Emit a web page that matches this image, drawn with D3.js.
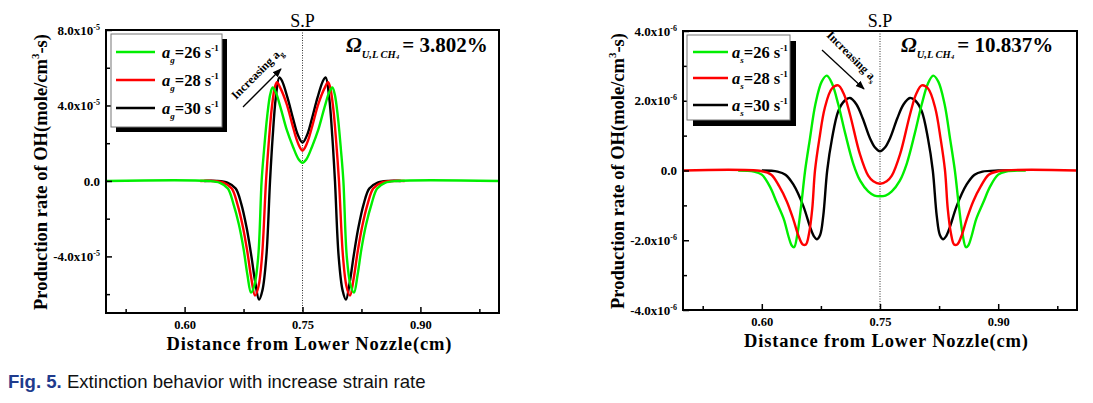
<!DOCTYPE html>
<html><head><meta charset="utf-8">
<script src="https://cdn.jsdelivr.net/npm/d3@7"></script>
<style>body{margin:0;background:#fff}svg{display:block}</style>
</head><body>
<svg id="c" width="1093" height="403"></svg>
<script>
// ---------- data ----------
const xMajor = [0.60, 0.75, 0.90];
const xMinor = [0.525, 0.675, 0.825, 0.975];
const leftYMajor = [-4, 0, 4, 8];
const leftYMinor = [-6, -2, 2, 6];
const rightYMajor = [-4, -2, 0, 2, 4];
const rightYMinor = [-3, -1, 1, 3];
const strainRates = [26, 28, 30];
const leftOmega = "3.802%";
const rightOmega = "10.837%";

// left panel (units 1e-5)
const leftGreen = [[0.500,0],[0.630,0],[0.645,-0.1],[0.655,-0.4],[0.662,-1.2],[0.669,-2.3],[0.675,-3.6],[0.680,-5.0],[0.6845,-5.92],[0.689,-5.5],[0.6937,-4.0],[0.698,0],[0.701,1.6],[0.705,3.4],[0.709,4.6],[0.712,4.96],[0.716,4.7],[0.722,3.9],[0.730,2.7],[0.738,1.8],[0.745,1.15],[0.750,0.96],
 [0.755,1.15],[0.762,1.8],[0.770,2.7],[0.778,3.9],[0.784,4.7],[0.788,4.96],[0.791,4.6],[0.795,3.4],[0.799,1.6],[0.802,0],[0.8063,-4.0],[0.811,-5.5],[0.8155,-5.92],[0.820,-5.0],[0.825,-3.6],[0.831,-2.3],[0.838,-1.2],[0.845,-0.4],[0.855,-0.1],[0.870,0],[1.000,0]];
const leftRed = [[0.620,0],[0.635,0],[0.650,-0.1],[0.660,-0.4],[0.667,-1.2],[0.674,-2.4],[0.680,-3.8],[0.685,-5.2],[0.6896,-6.08],[0.694,-5.6],[0.6985,-4.0],[0.7036,0],[0.707,2.0],[0.711,3.9],[0.715,5.0],[0.7176,5.23],[0.721,5.0],[0.7297,4.1],[0.737,3.0],[0.7425,2.2],[0.747,1.75],[0.750,1.6],
 [0.753,1.75],[0.7575,2.2],[0.763,3.0],[0.7703,4.1],[0.779,5.0],[0.7824,5.23],[0.785,5.0],[0.789,3.9],[0.793,2.0],[0.7964,0],[0.8015,-4.0],[0.806,-5.6],[0.8104,-6.08],[0.815,-5.2],[0.820,-3.8],[0.826,-2.4],[0.833,-1.2],[0.840,-0.4],[0.850,-0.1],[0.865,0],[0.880,0]];
const leftBlack = [[0.625,0],[0.640,0],[0.655,-0.1],[0.665,-0.4],[0.672,-1.2],[0.679,-2.5],[0.685,-4.0],[0.690,-5.4],[0.6947,-6.29],[0.699,-5.8],[0.704,-4.0],[0.7087,0],[0.712,2.3],[0.716,4.4],[0.7205,5.49],[0.724,5.3],[0.731,4.4],[0.738,3.3],[0.744,2.45],[0.750,2.03],
 [0.756,2.45],[0.762,3.3],[0.769,4.4],[0.776,5.3],[0.7795,5.49],[0.784,4.4],[0.788,2.3],[0.7913,0],[0.796,-4.0],[0.801,-5.8],[0.8053,-6.29],[0.810,-5.4],[0.815,-4.0],[0.821,-2.5],[0.828,-1.2],[0.835,-0.4],[0.845,-0.1],[0.860,0],[0.875,0]];

// right panel (units 1e-6)
const rightGreen = [[0.570,0],[0.590,-0.03],[0.600,-0.12],[0.610,-0.45],[0.619,-0.92],[0.628,-1.4],[0.634,-1.9],[0.638,-2.15],[0.641,-2.2],[0.645,-1.85],[0.650,-1.0],[0.655,0.0],[0.661,0.9],[0.668,1.9],[0.676,2.55],[0.6825,2.72],[0.689,2.5],[0.697,1.9],[0.706,1.05],[0.716,0.2],[0.725,-0.3],[0.735,-0.6],[0.743,-0.72],[0.750,-0.74],
 [0.757,-0.72],[0.765,-0.6],[0.775,-0.3],[0.784,0.2],[0.794,1.05],[0.803,1.9],[0.811,2.5],[0.8175,2.72],[0.824,2.55],[0.832,1.9],[0.839,0.9],[0.845,0],[0.850,-1.0],[0.855,-1.85],[0.859,-2.2],[0.862,-2.15],[0.866,-1.9],[0.872,-1.4],[0.881,-0.92],[0.890,-0.45],[0.900,-0.12],[0.910,-0.03],[0.935,0]];
const rightRed = [[0.500,0],[0.600,-0.02],[0.612,-0.12],[0.622,-0.45],[0.6316,-0.88],[0.640,-1.4],[0.647,-1.9],[0.652,-2.12],[0.656,-2.12],[0.660,-1.8],[0.664,-1.1],[0.6675,0],[0.673,0.9],[0.680,1.8],[0.689,2.35],[0.697,2.44],[0.704,2.2],[0.712,1.6],[0.7246,0.46],[0.735,-0.15],[0.7415,-0.31],[0.750,-0.38],
 [0.7585,-0.31],[0.765,-0.15],[0.7754,0.46],[0.788,1.6],[0.796,2.2],[0.803,2.44],[0.811,2.35],[0.820,1.8],[0.827,0.9],[0.8325,0],[0.836,-1.1],[0.840,-1.8],[0.844,-2.12],[0.848,-2.12],[0.853,-1.9],[0.860,-1.4],[0.8684,-0.88],[0.878,-0.45],[0.888,-0.12],[0.900,-0.02],[1.000,0]];
const rightBlack = [[0.600,0],[0.620,-0.03],[0.630,-0.12],[0.640,-0.4],[0.6527,-1.02],[0.661,-1.6],[0.666,-1.88],[0.670,-1.97],[0.674,-1.85],[0.678,-1.3],[0.683,0.0],[0.689,0.9],[0.697,1.7],[0.705,2.0],[0.712,2.08],[0.720,1.9],[0.728,1.5],[0.737,0.94],[0.744,0.65],[0.750,0.55],
 [0.756,0.65],[0.763,0.94],[0.772,1.5],[0.780,1.9],[0.788,2.08],[0.795,2.0],[0.803,1.7],[0.811,0.9],[0.817,0],[0.822,-1.3],[0.826,-1.85],[0.830,-1.97],[0.834,-1.88],[0.839,-1.6],[0.8473,-1.02],[0.860,-0.4],[0.870,-0.12],[0.880,-0.03],[0.900,0],[0.920,0]];

// ---------- drawing ----------
const svg = d3.select("#c");
const SERIF = "'Liberation Serif','Times New Roman',serif";
svg.append("defs").append("marker").attr("id","arr").attr("viewBox","0 0 10 10")
  .attr("refX",9).attr("refY",5).attr("markerWidth",7).attr("markerHeight",7).attr("orient","auto")
  .append("path").attr("d","M0,1 L10,5 L0,9 Z").attr("fill","#000");

function drawPanel(p){
  const x = d3.scaleLinear().domain([0.5,1.0]).range([p.x0,p.x1]);
  const y = d3.scaleLinear().domain(p.yDomain).range([p.y1,p.y0]);
  const g = svg.append("g");

  g.append("line").attr("x1",x(0.75)).attr("x2",x(0.75)).attr("y1",p.y0).attr("y2",p.y1)
   .attr("stroke","#333").attr("stroke-width",1).attr("stroke-dasharray","1,1.5");

  const line = d3.line().x(d=>x(d[0])).y(d=>y(d[1])).curve(d3.curveCatmullRom.alpha(0.5));
  p.series.forEach(s=>{
    g.append("path").attr("d",line(s.data)).attr("fill","none").attr("stroke",s.color)
     .attr("stroke-width",2.4).attr("stroke-linejoin","round");
  });

  g.append("rect").attr("x",p.x0).attr("y",p.y0).attr("width",p.x1-p.x0).attr("height",p.y1-p.y0)
   .attr("fill","none").attr("stroke","#000").attr("stroke-width",2);

  // y axis
  const ya = g.append("g").attr("transform",`translate(${p.x0},0)`)
    .call(d3.axisLeft(y).tickValues(p.yMajor).tickSize(-6).tickPadding(6));
  ya.select(".domain").remove();
  ya.selectAll("line").attr("stroke-width",1.5);
  ya.selectAll(".tick text").each(function(d){
    const t = d3.select(this).text(null).attr("font-family",SERIF).attr("font-weight","bold").attr("font-size",13).attr("fill","#000");
    if (d===0) { t.text("0.0"); }
    else {
      t.append("tspan").text(d.toFixed(1)+"x10");
      t.append("tspan").attr("dy",-5).attr("font-size",8).text(p.expo);
    }
  });
  const yam = g.append("g").attr("transform",`translate(${p.x0},0)`)
    .call(d3.axisLeft(y).tickValues(p.yMinor).tickSize(-4).tickFormat(""));
  yam.select(".domain").remove();
  yam.selectAll("line").attr("stroke-width",1.5);

  // x axis
  const xa = g.append("g").attr("transform",`translate(0,${p.y1})`)
    .call(d3.axisBottom(x).tickValues(xMajor).tickSize(-6).tickPadding(p.xPad).tickFormat(d3.format(".2f")));
  xa.select(".domain").remove();
  xa.selectAll("line").attr("stroke-width",1.5);
  xa.selectAll("text").attr("font-family",SERIF).attr("font-weight","bold").attr("font-size",12.5).attr("fill","#000");
  const xam = g.append("g").attr("transform",`translate(0,${p.y1})`)
    .call(d3.axisBottom(x).tickValues(xMinor).tickSize(-4).tickFormat(""));
  xam.select(".domain").remove();
  xam.selectAll("line").attr("stroke-width",1.5);

  // titles
  const yt = g.append("text").attr("transform",`translate(${p.yTitleX},${p.yTitleY}) rotate(-90)`)
    .attr("text-anchor","middle").attr("font-family",SERIF).attr("font-weight","bold").attr("font-size",18.5);
  yt.append("tspan").text("Production rate of OH(mole/cm");
  yt.append("tspan").attr("dy",-8).attr("font-size",11).text("3");
  yt.append("tspan").attr("dy",8).text("-s)");
  g.append("text").attr("x",p.xTitleX).attr("y",p.xTitleY).attr("text-anchor","middle")
   .attr("font-family",SERIF).attr("font-weight","bold").attr("font-size",18.5)
   .attr("textLength",p.xTitleLen).attr("lengthAdjust","spacing")
   .text("Distance from Lower Nozzle(cm)");

  // S.P
  g.append("text").attr("x",x(0.75)).attr("y",27).attr("text-anchor","middle")
   .attr("font-family",SERIF).attr("font-size",18).text("S.P");

  // Omega
  const om = g.append("text").attr("x",p.omX).attr("y",52).attr("font-family",SERIF).attr("font-weight","bold").attr("font-size",21);
  om.append("tspan").attr("font-style","italic").text("Ω");
  om.append("tspan").attr("font-style","italic").attr("font-size",10.5).attr("dy",6).text("U,L CH");
  om.append("tspan").attr("font-style","italic").attr("font-size",7).attr("dy",1).text("4");
  om.append("tspan").attr("dy",-7).attr("dx",3).text("= "+p.omega);

  // legend
  const L = p.legend;
  g.append("rect").attr("x",L.x+L.sh).attr("y",L.y+L.sh).attr("width",L.w).attr("height",L.h).attr("fill","#000");
  g.append("rect").attr("x",L.x).attr("y",L.y).attr("width",L.w).attr("height",L.h).attr("fill","#fff").attr("stroke","#777").attr("stroke-width",1);
  p.series.slice().sort((a,b)=>a.rate-b.rate).forEach((s,i)=>{
    const ly = L.rowY[i];
    g.append("line").attr("x1",L.lx1).attr("x2",L.lx2).attr("y1",ly).attr("y2",ly).attr("stroke",s.color).attr("stroke-width",2.4);
    const t = g.append("text").attr("x",L.tx).attr("y",ly+6).attr("font-family",SERIF).attr("font-weight","bold").attr("font-size",16.5);
    t.append("tspan").attr("font-style","italic").text("a");
    t.append("tspan").attr("font-style","italic").attr("font-size",9).attr("dy",5).text(p.sub);
    t.append("tspan").attr("dy",-5).text("="+s.rate+" s");
    t.append("tspan").attr("font-size",9).attr("dy",-7).text("-1");
  });

  // increasing annotation
  const A = p.arrow;
  g.append("line").attr("x1",A.x1).attr("y1",A.y1).attr("x2",A.x2).attr("y2",A.y2)
   .attr("stroke","#000").attr("stroke-width",1.3).attr("marker-end","url(#arr)");
  const it = g.append("text").attr("transform",`translate(${A.tx},${A.ty}) rotate(${A.rot})`)
    .attr("font-family",SERIF).attr("font-weight","bold").attr("font-size",12);
  it.append("tspan").text("Increasing a");
  it.append("tspan").attr("font-size",8).attr("dy",3).text(p.sub);
}

drawPanel({
  x0:106, x1:499, y0:30, y1:313, yDomain:[-7,8], yMajor:leftYMajor, yMinor:leftYMinor, expo:"-5", xPad:7,
  series:[{data:leftBlack,color:"#000000",rate:strainRates[2]},{data:leftRed,color:"#ff0000",rate:strainRates[1]},{data:leftGreen,color:"#00ee00",rate:strainRates[0]}],
  yTitleX:47, yTitleY:172, xTitleX:309, xTitleY:350, xTitleLen:285,
  omX:346, omega:leftOmega, sub:"g",
  legend:{x:111,y:34,w:111,h:93,sh:5,rowY:[52,80,108],lx1:116,lx2:155,tx:162},
  arrow:{x1:243,y1:107,x2:281,y2:69,tx:236,ty:100,rot:-45}
});
drawPanel({
  x0:683, x1:1077, y0:31, y1:310, yDomain:[-4,4], yMajor:rightYMajor, yMinor:rightYMinor, expo:"-6", xPad:7,
  series:[{data:rightBlack,color:"#000000",rate:strainRates[2]},{data:rightGreen,color:"#00ee00",rate:strainRates[0]},{data:rightRed,color:"#ff0000",rate:strainRates[1]}],
  yTitleX:624, yTitleY:171, xTitleX:886, xTitleY:347, xTitleLen:284,
  omX:901, omega:rightOmega, sub:"s",
  legend:{x:687,y:35,w:103,h:85,sh:6,rowY:[52,78,105],lx1:693,lx2:728,tx:732},
  arrow:{x1:822,y1:50,x2:864,y2:89,tx:826,ty:36,rot:45}
});

// caption
const cap = svg.append("text").attr("x",8).attr("y",388).attr("font-family","'Liberation Sans',Arial,sans-serif").attr("font-size",18.6);
cap.append("tspan").attr("font-weight","bold").attr("fill","#1f3b8d").text("Fig. 5.");
cap.append("tspan").attr("fill","#111").text(" Extinction behavior with increase strain rate");
</script>
</body></html>
